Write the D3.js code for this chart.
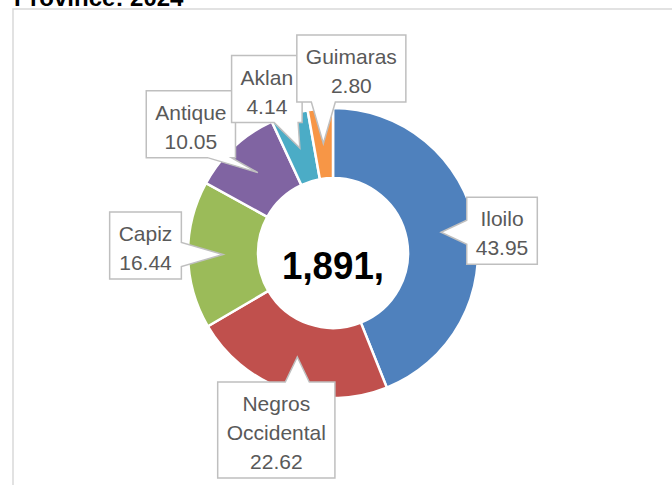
<!DOCTYPE html>
<html>
<head>
<meta charset="utf-8">
<script src="https://cdn.jsdelivr.net/npm/d3@7/dist/d3.min.js"></script>
<style>
  body { margin: 0; background: #fff; }
  svg { display: block; font-family: "Liberation Sans", Arial, sans-serif; }
</style>
</head>
<body>
<div id="chart"></div>
<script>
// data
var provinces = ['Iloilo', 'Negros Occidental', 'Capiz', 'Antique', 'Aklan', 'Guimaras'];
var shares = [43.95, 22.62, 16.44, 10.05, 4.14, 2.80];
var sliceColors = ['#4F81BD', '#C0504D', '#9BBB59', '#8064A2', '#4BACC6', '#F79646'];
var centerLabel = '1,891,';
var titleText = 'Province: 2024';

// callout box offsets from the slice anchor (layout only)
var calloutOffsets = [[61, -1.5], [-21, 73], [-77.5, -9], [-67, -48.5], [-33, -59], [28, -75]];

var width = 672, height = 485;
var cx = 333, cy = 253, rOuter = 145, rInner = 75;

var svg = d3.select('#chart').append('svg')
    .attr('width', width)
    .attr('height', height);

// title, mostly cut off at the top
svg.append('text')
    .attr('x', 14)
    .attr('y', 6)
    .attr('font-size', 24)
    .attr('font-weight', 'bold')
    .attr('fill', '#000')
    .text(titleText);

// chart area frame
svg.append('rect')
    .attr('x', 13).attr('y', 9)
    .attr('width', 700).attr('height', 500)
    .attr('fill', 'none')
    .attr('stroke', '#d9d9d9')
    .attr('stroke-width', 1.5);

var pie = d3.pie().sort(null).value(function (d) { return d; });
var arcs = pie(shares);

var arc = d3.arc().innerRadius(rInner).outerRadius(rOuter);
var anchorArc = d3.arc().innerRadius((rInner + rOuter) / 2).outerRadius((rInner + rOuter) / 2);

var g = svg.append('g').attr('transform', 'translate(' + cx + ',' + cy + ')');

g.selectAll('path.slice')
    .data(arcs)
    .join('path')
    .attr('class', 'slice')
    .attr('d', arc)
    .attr('fill', function (d, i) { return sliceColors[i]; })
    .attr('stroke', '#fff')
    .attr('stroke-width', 2.5);

g.append('text')
    .attr('x', 0)
    .attr('y', 26)
    .attr('text-anchor', 'middle')
    .attr('font-size', 39)
    .attr('font-weight', 'bold')
    .attr('fill', '#000')
    .attr('textLength', 102)
    .attr('lengthAdjust', 'spacingAndGlyphs')
    .text(centerLabel);

// callouts
var lineH = 29, padX = 9, wedge = 24;

function calloutPath(x0, y0, x1, y1, tx, ty) {
    function clamp(v, a, b) { return Math.max(a, Math.min(b, v)); }
    var p = [], c;
    if (ty > y1) {
        c = clamp(tx, x0 + wedge / 2 + 4, x1 - wedge / 2 - 4);
        p = [[x0, y0], [x1, y0], [x1, y1], [c + wedge / 2, y1], [tx, ty], [c - wedge / 2, y1], [x0, y1]];
    } else if (ty < y0) {
        c = clamp(tx, x0 + wedge / 2 + 4, x1 - wedge / 2 - 4);
        p = [[x0, y0], [c - wedge / 2, y0], [tx, ty], [c + wedge / 2, y0], [x1, y0], [x1, y1], [x0, y1]];
    } else if (tx > x1) {
        c = clamp(ty, y0 + wedge / 2 + 4, y1 - wedge / 2 - 4);
        p = [[x0, y0], [x1, y0], [x1, c - wedge / 2], [tx, ty], [x1, c + wedge / 2], [x1, y1], [x0, y1]];
    } else {
        c = clamp(ty, y0 + wedge / 2 + 4, y1 - wedge / 2 - 4);
        p = [[x0, y0], [x1, y0], [x1, y1], [x0, y1], [x0, c + wedge / 2], [tx, ty], [x0, c - wedge / 2]];
    }
    return 'M' + p.map(function (q) { return q[0] + ',' + q[1]; }).join('L') + 'Z';
}

arcs.forEach(function (d, i) {
    var tip = anchorArc.centroid(d);
    var lines = provinces[i].split(' ').concat([shares[i].toFixed(2)]);
    var lg = g.append('g');
    var box = lg.append('path');
    var tx = lg.append('text')
        .attr('font-size', 21)
        .attr('fill', '#595959')
        .attr('text-anchor', 'middle');
    lines.forEach(function (s) {
        tx.append('tspan').text(s);
    });
    var maxW = 0;
    tx.selectAll('tspan').each(function () {
        maxW = Math.max(maxW, this.getComputedTextLength());
    });
    var bw = maxW + padX * 2;
    var bh = lines.length * lineH + 9;
    var bcx = tip[0] + calloutOffsets[i][0];
    var bcy = tip[1] + calloutOffsets[i][1];
    var x0 = bcx - bw / 2, y0 = bcy - bh / 2;
    box.attr('d', calloutPath(x0, y0, x0 + bw, y0 + bh, tip[0], tip[1]))
        .attr('fill', '#fff')
        .attr('stroke', '#bfbfbf')
        .attr('stroke-width', 1.5);
    tx.selectAll('tspan')
        .attr('x', bcx)
        .attr('y', function (s, j) { return y0 + lineH * (j + 1); });
});
</script>
</body>
</html>
